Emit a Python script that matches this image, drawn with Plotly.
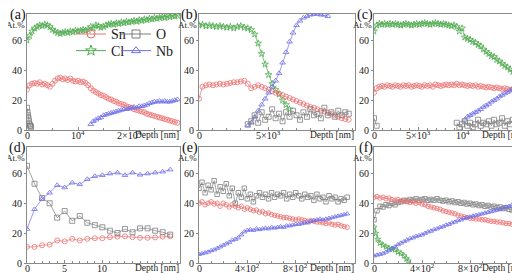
import plotly.graph_objects as go

# ---------------- data ----------------
# (a)
depth_a = [0, 500, 1000, 1500, 2000, 2500, 3000, 3500, 4000, 4500, 5000, 5500, 6000, 6500, 7000, 7500,
           8000, 8500, 9000, 9500, 10000, 10500, 11000, 11500, 12000, 12500, 13000, 13500, 14000, 14500,
           15000, 15500, 16000, 16500, 17000, 17500, 18000, 18500, 19000, 19500, 20000, 20500, 21000,
           21500, 22000, 22500, 23000, 23500, 24000, 24500, 25000, 25500, 26000, 26500, 27000, 27500,
           28000, 28500, 29000, 29500]
sn_a = [27, 30, 31, 31.5, 31, 32, 30.5, 31, 30, 29, 31, 33, 34.5, 35, 34, 34.5, 33.5, 34.5, 33, 32.5,
        33, 32, 32.5, 31.5, 30, 28, 26.5, 25.5, 24.5, 23.5, 23, 22, 21, 20.5, 19.5, 19, 18, 17.5, 17, 16,
        15.5, 15, 14, 13.5, 13, 12.5, 12, 11, 10.5, 10, 9.5, 9, 8.5, 8, 7.5, 7, 6.5, 6, 5.5, 5]
cl_a = [60, 63, 66, 68, 69, 70, 69.5, 70.5, 70, 69, 67, 66, 65, 64.5, 65, 65.5, 65, 66, 65.5, 66.5,
        66, 66.5, 67, 66.5, 67, 69, 68, 70, 69.5, 68.5, 69, 70, 70.5, 71, 70.5, 71.5, 71, 72, 71.5, 72.5,
        72, 72.5, 73, 72.5, 73.5, 73, 74, 73.5, 74.5, 74, 75, 74.5, 75, 75.5, 75, 76, 75.5, 76.5, 76, 76.5]
nb_a = [None] * 25 + [4, 6, 7, 8, 8.5, 10, 10.5, 11, 11.5, 12, 12.5, 13, 13.5, 14, 14, 14.5, 15, 15.5,
                      15, 16, 16, 16.5, 17, 18, 18.5, 19, 19, 19.5, 19, 19.5, 19, 19, 19.5, 20, 20.5]
depth_o_a = [0, 100, 200, 300, 400, 500, 600, 700, 800]
o_a = [15, 12, 10, 8, 6, 4, 3, 3, 2]

# (b)
depth_b = [0, 250, 500, 750, 1000, 1250, 1500, 1750, 2000, 2250, 2500, 2750, 3000, 3250, 3500, 3750,
           4000, 4250, 4500, 4750, 5000, 5250, 5500, 5750, 6000, 6250, 6500, 6750, 7000, 7250, 7500,
           7750, 8000, 8250, 8500, 8750, 9000, 9250, 9500, 9750, 10000, 10250, 10500, 10750]
sn_b = [21, 29, 30, 30.5, 30, 30.5, 31, 30.5, 31, 31.5, 32, 32, 32.5, 33, 31, 28, 29, 30, 29, 28, 27,
        26, 25, 24.5, 23.5, 22.5, 21.5, 20.5, 19.5, 18.5, 17.5, 16.5, 15.5, 15, 14, 13, 12.5, 11.5, 11,
        10, 9, 8, 7.5, 7]
cl_b = [70, 70.5, 69.5, 70, 69.5, 69, 69.5, 69, 68.5, 69, 68, 69, 69.5, 68.5, 68, 67, 64, 58, 51, 44,
        37, 31, 27, 24, 20, 17, 14] + [None] * 17
nb_b = [None] * 14 + [3, 5, 9, 13, 17, 21, 25, 29, 33, 38, 45, 52, 59, 65, 70, 73, 75, 76, 77, 77.5,
                      77.5, 77, 77, 76] + [None] * 6
o_b = [None] * 14 + [4, 6, 10, 5, 12, 7, 9, 14, 8, 11, 6, 12, 9, 13, 10, 7, 12, 9, 14, 10, 11, 8, 15,
                     10, 12, 9, 13, 10, 12, 11]

# (c)
depth_c = [0, 300, 600, 900, 1200, 1500, 1800, 2100, 2400, 2700, 3000, 3300, 3600, 3900, 4200, 4500,
           4800, 5100, 5400, 5700, 6000, 6300, 6600, 6900, 7200, 7500, 7800, 8100, 8400, 8700, 9000,
           9300, 9600, 9900, 10200, 10500, 10800, 11100, 11400, 11700, 12000, 12300, 12600, 12900,
           13200, 13500, 13800, 14100, 14400, 14700, 15000, 15300, 15600, 15900, 16200, 16500, 16800]
sn_c = [25, 28, 29, 29.5, 29, 30, 29.5, 29, 30, 29.5, 29, 30, 29.5, 30, 29, 29.5, 30, 29.5, 29, 30,
        29.5, 30, 29, 30.5, 30, 29.5, 30, 30.5, 30, 30.5, 30, 31, 30, 30.5, 30, 29.5, 30, 29.5, 30, 29,
        29.5, 29, 28.5, 29, 28.5, 28, 28.5, 28, 27.5, 28, 27.5, 27, 27.5, 27, 26.5, 27, 26.5]
cl_c = [66, 70, 71, 70.5, 71, 70.5, 71, 70.5, 71, 70.5, 70, 70.5, 71, 70.5, 70, 70.5, 71, 70.5, 71,
        71.5, 71, 70.5, 71, 71.5, 71, 70.5, 71, 70.5, 70, 69.5, 70, 69, 66, 68, 62, 61, 60.5, 59, 58.5,
        57, 56, 54, 52.5, 51, 49.5, 49, 47, 46, 44.5, 43, 42, 40.5, 39, 38, 37, 35.5, 34]
nb_c = [None] * 34 + [7, 9, 10, 11, 12, 13, 14, 15.5, 16.5, 17.5, 19, 20, 21, 22.5, 23.5, 24.5, 25.5,
                      26.5, 27.5, 29, 30.5, 32, 33]
o_c = [8, 3] + [None] * 29 + [5, 2, 4, 6, 3, 5, 2, 4, 7, 3, 5, 4, 6, 3, 7, 4, 5, 8, 3, 6, 4, 7, 5, 3,
                             6, 5]

# (d)
depth_d = [0, 1, 2, 3, 4, 5, 6, 7, 8, 9, 10, 11, 12, 13, 14, 15, 16, 17, 18, 19]
sn_d = [10.9, 10.9, 12, 12.4, 15.2, 14.6, 16.3, 15.2, 16.3, 16.7, 16.7, 17.4, 17.8, 18, 17.4, 17, 17,
        17.2, 17.8, 18]
o_d = [65, 53, 43.5, 40, 30.4, 34.8, 28.3, 31.5, 27, 25.4, 24, 21.7, 20.2, 22.8, 20.7, 23.3, 23.3,
       21.7, 20.7, 19.1]
nb_d = [22.8, 36, 43, 47, 52, 50.5, 53.7, 52.6, 56, 58, 58.7, 59.8, 60.4, 58.7, 60.4, 59, 59.8, 60.4,
        61, 62.4]

# (e)
depth_e = [0, 25, 50, 75, 100, 125, 150, 175, 200, 225, 250, 275, 300, 325, 350, 375, 400, 425, 450,
           475, 500, 525, 550, 575, 600, 625, 650, 675, 700, 725, 750, 775, 800, 825, 850, 875, 900,
           925, 950, 975, 1000, 1025, 1050, 1075, 1100, 1125, 1150, 1175, 1200, 1225]
o_e = [50, 54, 47, 52, 49, 55, 46, 51, 48, 53, 45, 50, 40, 47, 44, 50, 43, 46, 41, 45, 47, 44, 46, 43,
       47, 44, 46, 45, 47, 43, 46, 44, 47, 45, 43, 46, 44, 45, 42, 46, 43, 44, 41, 45, 43, 44, 41, 43,
       42, 44]
sn_e = [40, 41, 39, 40, 41, 39.5, 40, 38, 40, 39, 37.5, 39, 38, 37, 38, 36, 37, 36, 35, 35.5, 34,
        34.5, 33, 33.5, 32.5, 32, 31.5, 31, 30.5, 30.5, 30, 29.5, 29, 29.5, 29, 28.5, 28, 28.5, 28,
        27.5, 27.5, 27, 26.5, 27, 26, 25.5, 26, 25, 24.5, 24]
nb_e = [6, 6.5, 7, 7.5, 8.5, 9, 10, 11, 12, 13, 14, 15.5, 16, 17, 19, 21, 22, 22.5, 22, 23, 22.5, 23,
        23.5, 23, 24, 23.5, 24, 24.5, 24, 25, 25, 25.5, 26, 26, 26.5, 27, 27, 28, 28.5, 29, 29.5, 29,
        29.5, 30, 30.5, 31, 31.5, 32, 32.5, 33]

# (f)
depth_f = [0, 25, 50, 75, 100, 125, 150, 175, 200, 225, 250, 275, 300, 325, 350, 375, 400, 425, 450,
           475, 500, 525, 550, 575, 600, 625, 650, 675, 700, 725, 750, 775, 800, 825, 850, 875, 900,
           925, 950, 975, 1000, 1025, 1050, 1075, 1100, 1125, 1150, 1175, 1200]
sn_f = [44, 44.5, 43.5, 44, 43, 43.5, 42.5, 42, 42.5, 41.5, 41.5, 41, 40.5, 41, 40, 40.5, 39.5, 39, 38,
        37.5, 37, 36.5, 36, 35, 34.5, 34, 33.5, 33, 32, 31.5, 31, 30.5, 30, 30, 29.5, 29.5, 29, 29,
        28.5, 28, 28, 27.5, 27.5, 27, 26.5, 26.5, 26, 25.5, 25.5]
o_f = [29, 35, 38, 37.5, 39, 38.5, 40, 39, 40.5, 41, 42, 41.5, 42.5, 42, 43, 42, 42.5, 43, 42, 42.5,
       42, 43, 42, 41.5, 42, 41, 41.5, 40.5, 41, 40, 40.5, 39.5, 40, 39, 39.5, 38.5, 39, 38, 38.5,
       37.5, 38, 37, 37.5, 36.5, 37, 36, 35.5, 36, 35]
nb_f = [5, 5.5, 6, 6.5, 7.5, 8.5, 10, 11, 12.5, 13.5, 14.5, 15.5, 16.5, 17, 18, 18.5, 19, 20, 21,
        21.5, 22.5, 23, 24, 24.5, 25.5, 26, 27, 27.5, 28.5, 29, 30, 30.5, 31, 31.5, 32, 32.5, 33, 33.5,
        34, 34.5, 35, 35.5, 36, 37, 37.5, 38, 39, 41, 39]
depth_cl_f = [0, 15, 30, 50, 75, 100, 125, 150, 175, 200, 225, 250, 270, 285]
cl_f = [24, 20, 16, 13.5, 12, 11, 10, 9.5, 9, 7.5, 6.5, 5, 3, 1.5]

panel_labels = ["(a)", "(b)", "(c)", "(d)", "(e)", "(f)"]
series_names = ["Sn", "O", "Cl", "Nb"]
y_ticks = [0, 20, 40, 60]

# ---------------- style ----------------
FONT = "Liberation Serif"
COL = {"Sn": "rgb(236,112,112)", "O": "rgb(125,125,125)", "Cl": "rgb(82,172,82)", "Nb": "rgb(110,110,232)"}
SYM = {"Sn": "circle-open", "O": "square-open", "Cl": "star-open", "Nb": "triangle-up-open"}

W, H = 520, 273
xdom_px = [(19, 172), (191, 347), (366, 519)]
ydom_px = [(6, 125), (142, 261)]

fig = go.Figure()


def add(ax, x, y, name, size=5):
    fig.add_trace(go.Scatter(
        x=x, y=y, mode="lines+markers", name=name, showlegend=False,
        xaxis="x" + ("" if ax == 1 else str(ax)), yaxis="y" + ("" if ax == 1 else str(ax)),
        line=dict(color=COL[name], width=0.7),
        marker=dict(symbol=SYM[name], size=size, color=COL[name], line=dict(width=0.8, color=COL[name])),
        cliponaxis=True,
    ))


add(1, depth_a, cl_a, "Cl"); add(1, depth_a, sn_a, "Sn"); add(1, depth_a, nb_a, "Nb"); add(1, depth_o_a, o_a, "O")
add(2, depth_b, cl_b, "Cl"); add(2, depth_b, sn_b, "Sn"); add(2, depth_b, nb_b, "Nb"); add(2, depth_b, o_b, "O")
add(3, depth_c, cl_c, "Cl"); add(3, depth_c, sn_c, "Sn"); add(3, depth_c, nb_c, "Nb"); add(3, depth_c, o_c, "O")
add(4, depth_d, sn_d, "Sn", 5); add(4, depth_d, o_d, "O", 5); add(4, depth_d, nb_d, "Nb", 5)
add(5, depth_e, o_e, "O", 4.5); add(5, depth_e, sn_e, "Sn", 4.5); add(5, depth_e, nb_e, "Nb", 4.5)
add(6, depth_cl_f, cl_f, "Cl", 4.5); add(6, depth_f, o_f, "O", 4.5); add(6, depth_f, sn_f, "Sn", 4.5); add(6, depth_f, nb_f, "Nb", 4.5)

# legend entries (one legend box per entry, placed inside panel (a))
leg_pos = {"Sn": (63, 27), "O": (108, 27), "Cl": (63, 44), "Nb": (108, 44)}
leg_ids = {"Sn": "legend", "O": "legend2", "Cl": "legend3", "Nb": "legend4"}
for nm in series_names:
    fig.add_trace(go.Scatter(
        x=[None], y=[None], mode="lines+markers", name=nm, legend=leg_ids[nm],
        line=dict(color=COL[nm], width=1),
        marker=dict(symbol=SYM[nm], size=8, color=COL[nm], line=dict(width=1, color=COL[nm])),
    ))

x_ranges = [[0, 30000], [0, 11200], [0, 17200], [0, 20.3], [0, 1290], [0, 1275]]
x_tickvals = [[0, 10000, 20000], [0, 5000], [0, 5000, 10000], [0, 5, 10], [0, 400, 800], [0, 400, 800]]
x_ticktext = [["0", "10<sup>4</sup>", "2×10<sup>4</sup>"], ["0", "5×10<sup>3</sup>"],
              ["0", "5×10<sup>3</sup>", "10<sup>4</sup>"], ["0", "5", "10"],
              ["0", "4×10<sup>2</sup>", "8×10<sup>2</sup>"], ["0", "4×10<sup>2</sup>", "8×10<sup>2</sup>"]]
x_minor = [5000, 1000, 1000, 1, 100, 100]

TXT = dict(family=FONT, size=10, color="#222")
layout = dict(
    width=W, height=H, margin=dict(l=0, r=0, t=0, b=0),
    paper_bgcolor="white", plot_bgcolor="white",
    font=TXT,
    annotations=[],
)
for i in range(6):
    r, c = divmod(i, 3)
    xd = [xdom_px[c][0] / W, xdom_px[c][1] / W]
    yd = [1 - ydom_px[r][1] / H, 1 - ydom_px[r][0] / H]
    sfx = "" if i == 0 else str(i + 1)
    layout["xaxis" + sfx] = dict(
        domain=xd, anchor="y" + sfx, range=x_ranges[i], tickvals=x_tickvals[i], showticklabels=False,
        showline=True, mirror=True, linecolor="#8a8a8a", linewidth=1, showgrid=False, zeroline=False,
        ticks="inside", ticklen=3, tickcolor="#8a8a8a",
        minor=dict(ticks="inside", ticklen=2, dtick=x_minor[i], tickcolor="#8a8a8a"),
    )
    layout["yaxis" + sfx] = dict(
        domain=yd, anchor="x" + sfx, range=[0, 77.6], tickvals=y_ticks,
        showline=True, mirror=True, linecolor="#8a8a8a", linewidth=1, showgrid=False, zeroline=False,
        ticks="outside", ticklen=2, tickcolor="#8a8a8a", tickfont=TXT,
    )
    xr = "x" + sfx
    yr = "y" + sfx
    # x tick labels drawn as text at the tick values, hugging the axis
    for tv, tt in zip(x_tickvals[i], x_ticktext[i]):
        layout["annotations"].append(dict(
            text=tt, xref=xr, yref=yr + " domain", x=tv, y=0, xanchor="center", yanchor="middle",
            yshift=-5, showarrow=False, borderpad=0, font=TXT))
    layout["annotations"] += [
        dict(text=panel_labels[i], xref=xr + " domain", yref=yr + " domain", x=0, y=1, xanchor="right",
             yanchor="middle", xshift=1, yshift=-1, showarrow=False, font=dict(family=FONT, size=14, color="#111")),
        dict(text="At.%", xref=xr + " domain", yref=yr, x=0, y=70, xanchor="right", yanchor="middle",
             showarrow=False, font=dict(family=FONT, size=9, color="#222")),
        dict(text="Depth [nm]", xref=xr + " domain", yref=yr + " domain", x=1, y=0, xanchor="right",
             yanchor="middle", yshift=-5, showarrow=False, borderpad=0,
             font=dict(family=FONT, size=9.5, color="#222")),
    ]

for nm in series_names:
    px, py = leg_pos[nm]
    layout[leg_ids[nm]] = dict(
        x=px / W, y=1 - py / H, xanchor="left", yanchor="middle", orientation="h",
        bgcolor="rgba(0,0,0,0)", borderwidth=0, font=dict(family=FONT, size=14, color="#222"),
        itemwidth=30,
    )

fig.update_layout(**layout)
fig.write_html("out.html")
